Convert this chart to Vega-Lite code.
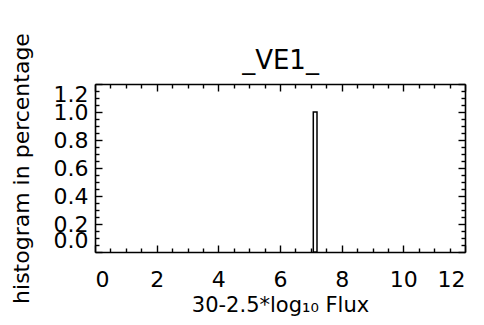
{
  "$schema": "https://vega.github.io/schema/vega-lite/v6.json",
  "width": 370,
  "height": 168,
  "autosize": {"type": "none"},
  "padding": {"left": 95, "top": 84, "right": 19, "bottom": 73},
  "background": "white",
  "config": {
    "font": "DejaVu Sans",
    "view": {"stroke": null},
    "axis": {
      "grid": false,
      "domainColor": "black",
      "tickColor": "black",
      "labelColor": "black",
      "titleColor": "black",
      "domainWidth": 1.6,
      "tickWidth": 1.4,
      "labelFont": "DejaVu Sans",
      "titleFont": "DejaVu Sans",
      "titleFontWeight": "normal",
      "labelOverlap": false
    }
  },
  "data": {"values": [{"bin_start": 7.08, "bin_end": 7.2, "base": 0, "percent": 1.0}]},
  "layer": [
    {
      "mark": {"type": "rect", "fill": "white", "stroke": "black", "strokeWidth": 1.5},
      "encoding": {
        "x": {"field": "bin_start", "type": "quantitative", "scale": {"domain": [0, 12], "nice": false, "zero": false, "padding": 0},
          "axis": {"orient": "bottom", "values": [0, 2, 4, 6, 8, 10, 12], "format": "d", "tickSize": -7, "labelPadding": 24, "labelFontSize": 22, "title": "30-2.5*log₁₀ Flux", "titleFontSize": 21, "titlePadding": 4}},
        "x2": {"field": "bin_end"},
        "y": {"field": "percent", "type": "quantitative", "scale": {"domain": [0, 1.2], "nice": false, "zero": false, "padding": 0},
          "axis": {"orient": "left", "values": [0, 0.2, 0.4, 0.6, 0.8, 1.0, 1.2], "format": ".1f", "tickSize": -7, "labelPadding": 14, "labelFontSize": 22, "labelFlush": true, "labelFlushOffset": 0, "title": "histogram in percentage", "titleFontSize": 22, "titlePadding": 20}},
        "y2": {"field": "base"}
      }
    },
    {
      "mark": {"type": "point", "opacity": 0},
      "encoding": {
        "x": {"field": "bin_start", "type": "quantitative", "axis": {"orient": "top", "values": [0, 2, 4, 6, 8, 10, 12], "tickSize": -7, "labels": false, "title": "_VE1_", "titleFontSize": 26, "titlePadding": 10}},
        "y": {"field": "percent", "type": "quantitative", "axis": {"orient": "right", "values": [0, 0.2, 0.4, 0.6, 0.8, 1.0, 1.2], "tickSize": -7, "labels": false, "title": null}}
      }
    },
    {
      "mark": {"type": "point", "opacity": 0},
      "encoding": {
        "x": {"field": "bin_start", "type": "quantitative", "axis": {"orient": "bottom", "values": [0.5, 1, 1.5, 2.5, 3, 3.5, 4.5, 5, 5.5, 6.5, 7, 7.5, 8.5, 9, 9.5, 10.5, 11, 11.5], "tickSize": -4, "labels": false, "domain": false, "title": null}},
        "y": {"field": "percent", "type": "quantitative", "axis": {"orient": "left", "values": [0.05, 0.1, 0.15, 0.25, 0.3, 0.35, 0.45, 0.5, 0.55, 0.65, 0.7, 0.75, 0.85, 0.9, 0.95, 1.05, 1.1, 1.15], "tickSize": -4, "labels": false, "domain": false, "title": null}}
      }
    },
    {
      "mark": {"type": "point", "opacity": 0},
      "encoding": {
        "x": {"field": "bin_start", "type": "quantitative", "axis": {"orient": "top", "values": [0.5, 1, 1.5, 2.5, 3, 3.5, 4.5, 5, 5.5, 6.5, 7, 7.5, 8.5, 9, 9.5, 10.5, 11, 11.5], "tickSize": -4, "labels": false, "domain": false, "title": null}},
        "y": {"field": "percent", "type": "quantitative", "axis": {"orient": "right", "values": [0.05, 0.1, 0.15, 0.25, 0.3, 0.35, 0.45, 0.5, 0.55, 0.65, 0.7, 0.75, 0.85, 0.9, 0.95, 1.05, 1.1, 1.15], "tickSize": -4, "labels": false, "domain": false, "title": null}}
      }
    }
  ],
  "resolve": {"axis": {"x": "independent", "y": "independent"}}
}
